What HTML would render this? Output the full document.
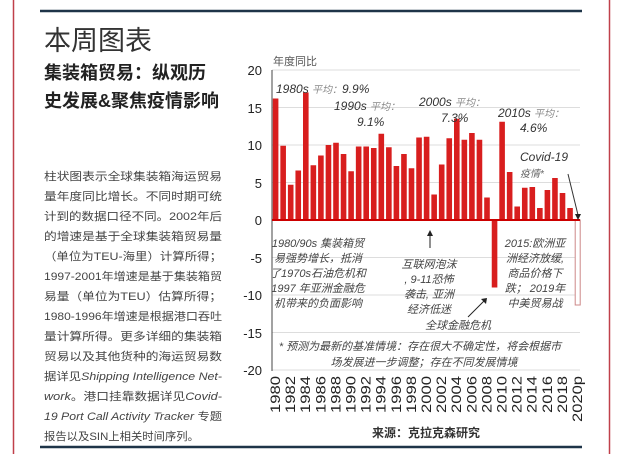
<!DOCTYPE html>
<html><head><meta charset="utf-8"><style>
body{margin:0;background:#fff;}
svg{display:block;font-family:"Liberation Sans","Noto Sans CJK SC",sans-serif;}
</style></head><body>
<svg width="624" height="454" viewBox="0 0 624 454" xmlns="http://www.w3.org/2000/svg">
<rect width="624" height="454" fill="#fff"/>
<line x1="13.5" y1="0" x2="13.5" y2="454" stroke="#c0404a" stroke-width="1.5"/>
<line x1="609.5" y1="0" x2="609.5" y2="454" stroke="#c0404a" stroke-width="1.5"/>
<line x1="40" y1="11" x2="582" y2="11" stroke="#1e3448" stroke-width="2.5"/>
<line x1="40" y1="447" x2="582" y2="447" stroke="#1e3448" stroke-width="2.5"/>
<text x="44" y="50" font-size="27" fill="#333" font-family="Noto Sans CJK SC,sans-serif">本周图表</text>
<text x="44" y="79" font-size="18" font-weight="bold" fill="#222">集装箱贸易：纵观历</text>
<text x="44" y="107" font-size="18" font-weight="bold" fill="#222">史发展&amp;聚焦疫情影响</text>
<g font-size="11" fill="#444">
<text x="44" y="180" textLength="178" lengthAdjust="spacingAndGlyphs">柱状图表示全球集装箱海运贸易</text>
<text x="44" y="200" textLength="178" lengthAdjust="spacingAndGlyphs">量年度同比增长。不同时期可统</text>
<text x="44" y="220" textLength="178" lengthAdjust="spacingAndGlyphs">计到的数据口径不同。2002年后</text>
<text x="44" y="240" textLength="178" lengthAdjust="spacingAndGlyphs">的增速是基于全球集装箱贸易量</text>
<text x="44" y="260" textLength="178" lengthAdjust="spacingAndGlyphs">（单位为TEU-海里）计算所得；</text>
<text x="44" y="280" textLength="178" lengthAdjust="spacingAndGlyphs">1997-2001年增速是基于集装箱贸</text>
<text x="44" y="300" textLength="178" lengthAdjust="spacingAndGlyphs">易量（单位为TEU）估算所得；</text>
<text x="44" y="320" textLength="178" lengthAdjust="spacingAndGlyphs">1980-1996年增速是根据港口吞吐</text>
<text x="44" y="340" textLength="178" lengthAdjust="spacingAndGlyphs">量计算所得。更多详细的集装箱</text>
<text x="44" y="360" textLength="178" lengthAdjust="spacingAndGlyphs">贸易以及其他货种的海运贸易数</text>
<text x="44" y="380" textLength="178" lengthAdjust="spacingAndGlyphs">据详见<tspan font-style="italic">Shipping Intelligence Net-</tspan></text>
<text x="44" y="400" textLength="178" lengthAdjust="spacingAndGlyphs"><tspan font-style="italic">work</tspan>。港口挂靠数据详见<tspan font-style="italic">Covid-</tspan></text>
<text x="44" y="420" textLength="178" lengthAdjust="spacingAndGlyphs"><tspan font-style="italic">19 Port Call Activity Tracker</tspan> 专题</text>
<text x="44" y="440" textLength="155" lengthAdjust="spacingAndGlyphs">报告以及SIN上相关时间序列。</text>
</g>
<g stroke="#ddd" stroke-width="1">
<line x1="272" y1="70" x2="580" y2="70"/><line x1="272" y1="107.5" x2="580" y2="107.5"/>
<line x1="272" y1="145" x2="580" y2="145"/><line x1="272" y1="182.5" x2="580" y2="182.5"/>
<line x1="272" y1="257.5" x2="580" y2="257.5"/><line x1="272" y1="295" x2="580" y2="295"/>
<line x1="272" y1="332.5" x2="580" y2="332.5"/><line x1="272" y1="370" x2="580" y2="370"/>
</g>
<g font-size="13" fill="#222" text-anchor="end">
<text x="262" y="75">20</text><text x="262" y="113">15</text><text x="262" y="150">10</text>
<text x="262" y="188">5</text><text x="262" y="225">0</text><text x="262" y="263">-5</text>
<text x="262" y="300">-10</text><text x="262" y="338">-15</text><text x="262" y="375">-20</text>
</g>
<text x="273" y="65" font-size="11" fill="#555">年度同比</text>
<g fill="#d81e1e">
<rect x="272.8" y="98.5" width="5.6" height="121.5"/>
<rect x="280.35" y="145.75" width="5.6" height="74.25"/>
<rect x="287.9" y="184.75" width="5.6" height="35.25"/>
<rect x="295.45" y="170.5" width="5.6" height="49.5"/>
<rect x="303" y="92.5" width="5.6" height="127.5"/>
<rect x="310.55" y="165.25" width="5.6" height="54.75"/>
<rect x="318.1" y="155.5" width="5.6" height="64.5"/>
<rect x="325.65" y="145" width="5.6" height="75"/>
<rect x="333.2" y="142.75" width="5.6" height="77.25"/>
<rect x="340.75" y="154" width="5.6" height="66"/>
<rect x="348.3" y="171.25" width="5.6" height="48.75"/>
<rect x="355.85" y="146.5" width="5.6" height="73.5"/>
<rect x="363.4" y="146.5" width="5.6" height="73.5"/>
<rect x="370.95" y="148" width="5.6" height="72"/>
<rect x="378.5" y="133.75" width="5.6" height="86.25"/>
<rect x="386.05" y="147.25" width="5.6" height="72.75"/>
<rect x="393.6" y="166" width="5.6" height="54"/>
<rect x="401.15" y="154" width="5.6" height="66"/>
<rect x="408.7" y="168.25" width="5.6" height="51.75"/>
<rect x="416.25" y="137.5" width="5.6" height="82.5"/>
<rect x="423.8" y="136.75" width="5.6" height="83.25"/>
<rect x="431.35" y="194.5" width="5.6" height="25.5"/>
<rect x="438.9" y="164.5" width="5.6" height="55.5"/>
<rect x="446.45" y="138.25" width="5.6" height="81.75"/>
<rect x="454" y="118.75" width="5.6" height="101.25"/>
<rect x="461.55" y="139.75" width="5.6" height="80.25"/>
<rect x="469.1" y="133" width="5.6" height="87"/>
<rect x="476.65" y="139.75" width="5.6" height="80.25"/>
<rect x="484.2" y="197.5" width="5.6" height="22.5"/>
<rect x="491.75" y="220" width="5.6" height="67.5"/>
<rect x="499.3" y="121.75" width="5.6" height="98.25"/>
<rect x="506.85" y="172" width="5.6" height="48"/>
<rect x="514.4" y="206.5" width="5.6" height="13.5"/>
<rect x="521.95" y="187.75" width="5.6" height="32.25"/>
<rect x="529.5" y="187" width="5.6" height="33"/>
<rect x="537.05" y="208" width="5.6" height="12"/>
<rect x="544.6" y="190" width="5.6" height="30"/>
<rect x="552.15" y="178" width="5.6" height="42"/>
<rect x="559.7" y="193" width="5.6" height="27"/>
<rect x="567.25" y="208" width="5.6" height="12"/>
</g>
<rect x="575.2" y="220" width="5" height="85" fill="#fff" stroke="#c88" stroke-width="1"/>
<line x1="272" y1="70" x2="272" y2="371" stroke="#444" stroke-width="1"/>
<line x1="272" y1="220" x2="580" y2="220" stroke="#c00" stroke-width="2"/>
<g font-size="12" font-style="italic" fill="#333">
<text x="276" y="93">1980s <tspan fill="#888" font-size="10">平均：</tspan>9.9%</text>
<text x="334" y="110">1990s <tspan fill="#888" font-size="10">平均：</tspan></text>
<text x="357" y="126">9.1%</text>
<text x="419" y="106">2000s <tspan fill="#888" font-size="10">平均：</tspan></text>
<text x="441" y="122">7.3%</text>
<text x="498" y="117">2010s <tspan fill="#888" font-size="10">平均：</tspan></text>
<text x="520" y="132">4.6%</text>
<text x="520" y="161">Covid-19</text>
<text x="520" y="177" font-size="10" fill="#666">疫情*</text>
</g>
<line x1="568" y1="174" x2="578" y2="215" stroke="#333" stroke-width="1"/>
<polygon points="575,214 581,214 578,220" fill="#222"/>
<g font-size="11" font-style="italic" fill="#444" text-anchor="middle">
<text x="318" y="247">1980/90s 集装箱贸</text>
<text x="318" y="262">易强势增长，抵消</text>
<text x="318" y="277">了1970s石油危机和</text>
<text x="318" y="292">1997 年亚洲金融危</text>
<text x="318" y="307">机带来的负面影响</text>
<text x="429" y="268">互联网泡沫</text>
<text x="429" y="283">, 9-11恐怖</text>
<text x="429" y="298">袭击, 亚洲</text>
<text x="429" y="313">经济低迷</text>
<text x="458" y="329">全球金融危机</text>
<text x="535" y="247">2015:欧洲亚</text>
<text x="535" y="262">洲经济放缓,</text>
<text x="535" y="277">商品价格下</text>
<text x="535" y="292">跌； 2019年</text>
<text x="535" y="307">中美贸易战</text>
<text x="420" y="350">* 预测为最新的基准情境：存在很大不确定性，将会根据市</text>
<text x="424" y="366">场发展进一步调整；存在不同发展情境</text>
</g>
<line x1="430" y1="248" x2="430" y2="234" stroke="#222"/>
<polygon points="427,236 433,236 430,230" fill="#222"/>
<line x1="468" y1="317" x2="484" y2="301" stroke="#222"/>
<polygon points="481,299 487,298 486,304" fill="#222"/>
<g font-size="14" fill="#222" text-anchor="end">
<text transform="translate(280,376) rotate(-90)" textLength="37" lengthAdjust="spacingAndGlyphs">1980</text>
<text transform="translate(295.1,376) rotate(-90)" textLength="37" lengthAdjust="spacingAndGlyphs">1982</text>
<text transform="translate(310.2,376) rotate(-90)" textLength="37" lengthAdjust="spacingAndGlyphs">1984</text>
<text transform="translate(325.3,376) rotate(-90)" textLength="37" lengthAdjust="spacingAndGlyphs">1986</text>
<text transform="translate(340.4,376) rotate(-90)" textLength="37" lengthAdjust="spacingAndGlyphs">1988</text>
<text transform="translate(355.5,376) rotate(-90)" textLength="37" lengthAdjust="spacingAndGlyphs">1990</text>
<text transform="translate(370.6,376) rotate(-90)" textLength="37" lengthAdjust="spacingAndGlyphs">1992</text>
<text transform="translate(385.7,376) rotate(-90)" textLength="37" lengthAdjust="spacingAndGlyphs">1994</text>
<text transform="translate(400.8,376) rotate(-90)" textLength="37" lengthAdjust="spacingAndGlyphs">1996</text>
<text transform="translate(415.9,376) rotate(-90)" textLength="37" lengthAdjust="spacingAndGlyphs">1998</text>
<text transform="translate(431,376) rotate(-90)" textLength="37" lengthAdjust="spacingAndGlyphs">2000</text>
<text transform="translate(446.1,376) rotate(-90)" textLength="37" lengthAdjust="spacingAndGlyphs">2002</text>
<text transform="translate(461.2,376) rotate(-90)" textLength="37" lengthAdjust="spacingAndGlyphs">2004</text>
<text transform="translate(476.3,376) rotate(-90)" textLength="37" lengthAdjust="spacingAndGlyphs">2006</text>
<text transform="translate(491.4,376) rotate(-90)" textLength="37" lengthAdjust="spacingAndGlyphs">2008</text>
<text transform="translate(506.5,376) rotate(-90)" textLength="37" lengthAdjust="spacingAndGlyphs">2010</text>
<text transform="translate(521.6,376) rotate(-90)" textLength="37" lengthAdjust="spacingAndGlyphs">2012</text>
<text transform="translate(536.7,376) rotate(-90)" textLength="37" lengthAdjust="spacingAndGlyphs">2014</text>
<text transform="translate(551.8,376) rotate(-90)" textLength="37" lengthAdjust="spacingAndGlyphs">2016</text>
<text transform="translate(566.9,376) rotate(-90)" textLength="37" lengthAdjust="spacingAndGlyphs">2018</text>
<text transform="translate(582,376) rotate(-90)" textLength="46" lengthAdjust="spacingAndGlyphs">2020p</text>
</g>
<text x="426" y="437" font-size="12" font-weight="bold" fill="#333" text-anchor="middle">来源：克拉克森研究</text>
</svg>
</body></html>
